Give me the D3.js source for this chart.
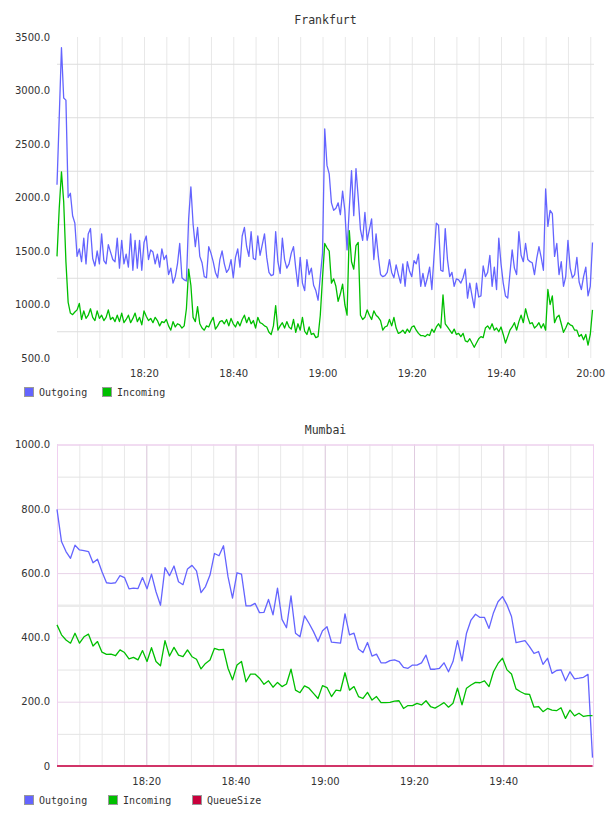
<!DOCTYPE html>
<html>
<head>
<meta charset="utf-8">
<script src="https://cdn.jsdelivr.net/npm/d3@7"></script>
<style>
  body { margin: 0; background: #fff; }
  svg text { font-family: "DejaVu Sans", sans-serif; font-size: 10px; fill: #333; }
  svg text.title, svg .legend text { font-family: "DejaVu Sans Mono", monospace; }
  svg text.title { font-size: 11.5px; }
</style>
</head>
<body>
<div id="chart"></div>
<script>
// ---- DATA ----
// Frankfurt: one sample every 30 s starting 18:00:30
const frankfurtStart = "18:00:30";
const frankfurtStepSec = 30;
const frankfurtOutgoing = [
  2120, 2750, 3400, 2930, 2910, 2000, 2040, 1830, 1760, 1450,
  1520, 1400, 1620, 1380, 1660, 1710, 1430, 1360, 1500, 1380,
  1660, 1410, 1380, 1560, 1490, 1420, 1400, 1620, 1340, 1600,
  1380, 1470, 1350, 1660, 1320, 1600, 1340, 1600, 1320, 1580,
  1640, 1420, 1510, 1490, 1380, 1470, 1350, 1520, 1420, 1460,
  1280, 1340, 1200, 1260, 1380, 1570, 1250, 1230, 1220, 1800,
  2100, 1750, 1540, 1720, 1450, 1390, 1260, 1250, 1540, 1480,
  1400, 1300, 1250, 1420, 1500, 1380, 1300, 1330, 1420, 1250,
  1440, 1520, 1350, 1640, 1720, 1540, 1450, 1680, 1430, 1420,
  1640, 1460, 1560, 1660, 1440, 1300, 1270, 1280, 1680, 1400,
  1290, 1620, 1420, 1340, 1380, 1480, 1540, 1340, 1170, 1440,
  1200, 1130, 1420, 1280, 1340, 1180, 1130, 1040, 1260, 1480,
  2640, 2300, 2220, 1950, 1880, 1900, 1950, 1840, 2060, 1880,
  1510, 1900, 2250, 1830, 2270, 2000, 1700, 1600, 1860, 1600,
  1700, 1800, 1420, 1660, 1450, 1280, 1260, 1270, 1300, 1420,
  1300, 1250, 1370, 1280, 1200, 1380, 1170, 1400, 1310, 1260,
  1410, 1380, 1470, 1170, 1290, 1170, 1250, 1350, 1140, 1460,
  1760, 1740, 1320, 1310, 1710, 1420, 1260, 1300, 1170, 1240,
  1230, 1200, 1250, 1330, 1060, 1200, 1080, 970, 1200, 1070,
  1080, 1360, 1260, 1300, 1460, 1170, 1350, 1140, 1620, 1380,
  1200, 1080, 1060, 1290, 1510, 1340, 1280, 1680, 1460, 1400,
  1570, 1420, 1400, 1390, 1280, 1430, 1540, 1440, 1320, 2080,
  1730, 1880, 1850, 1450, 1570, 1280, 1400, 1170, 1260, 1600,
  1340, 1250, 1280, 1440, 1210, 1140, 1260, 1350, 1080, 1170,
  1580
];
const frankfurtIncoming = [
  1450, 1900, 2240, 1960, 1400, 1020, 920, 905, 930, 950,
  1010, 860, 940, 870, 900, 960, 880, 850, 940, 870,
  900, 850, 880, 950, 860, 880, 840, 900, 840, 920,
  830, 860, 900, 830, 870, 920, 840, 880, 810, 940,
  890, 850, 870, 830, 880, 850, 800, 840, 830, 860,
  800, 760, 840, 790, 820, 810, 780, 800, 960, 1330,
  1180, 880, 840, 980, 820, 780, 760, 800, 790, 840,
  880, 770, 800, 840, 850, 820, 860, 800, 870, 820,
  790, 840, 800, 860, 900, 830, 880, 820, 850, 780,
  880, 830, 820, 800, 790, 740, 720, 800, 990, 760,
  800, 830, 780, 840, 790, 770, 860, 740, 820, 760,
  880, 750, 720, 790, 720, 730, 690, 700, 900, 1250,
  1570, 1530, 1500, 1200, 1240, 1170, 1030, 1100, 1190, 1000,
  900, 1690, 1400, 1330, 1550, 1580, 900, 860, 880, 950,
  900, 860, 940, 900, 880, 850, 760, 790, 800, 860,
  800, 880, 780, 730, 740, 760, 730, 770, 740, 790,
  800, 760, 730, 710, 710, 700, 720, 710, 770, 740,
  790, 820, 780, 1090, 820, 790, 760, 730, 770, 720,
  730, 700, 730, 660, 650, 680, 640, 600, 640, 680,
  700, 690, 780, 800, 770, 820, 760, 780, 745, 790,
  720, 640, 700, 760, 790, 830, 760, 840, 900, 830,
  960, 880, 820, 830, 780, 800, 830, 780, 820, 760,
  1140, 1000, 1080, 830, 880, 900, 820, 740, 780, 830,
  810, 800, 760, 760, 700, 720, 670, 720, 620, 720,
  950
];

// Mumbai: roughly one sample a minute from 18:00 to 20:00
const mumbaiStart = "18:00:00";
const mumbaiStepSec = 60.5;
const mumbaiOutgoing = [
  798, 698, 667, 646, 687, 672, 670, 667, 632, 643,
  604, 570, 568, 570, 592, 586, 551, 553, 552, 586,
  551, 597, 542, 500, 617, 592, 622, 573, 564, 613,
  624, 607, 539, 558, 594, 661, 654, 685, 589, 522,
  601, 597, 498, 498, 506, 477, 478, 518, 470, 553,
  456, 430, 529, 413, 402, 467, 444, 418, 387, 421,
  433, 385, 384, 382, 473, 408, 413, 364, 353, 384,
  342, 348, 321, 321, 328, 330, 325, 307, 304, 314,
  314, 321, 345, 301, 301, 304, 321, 293, 325, 390,
  327, 413, 454, 472, 462, 462, 428, 477, 511, 527,
  501, 465, 384, 387, 390, 371, 350, 356, 316, 335,
  288, 297, 299, 265, 293, 271, 273, 276, 285, 26
];
const mumbaiIncoming = [
  439, 408, 392, 382, 413, 382, 402, 410, 373, 387,
  354, 347, 348, 343, 361, 353, 333, 338, 330, 359,
  325, 368, 325, 312, 390, 342, 369, 345, 340, 361,
  340, 332, 302, 319, 330, 366, 361, 363, 304, 268,
  314, 325, 262, 286, 286, 273, 254, 265, 245, 260,
  247, 255, 301, 236, 228, 249, 242, 226, 210, 250,
  244, 216, 236, 234, 290, 236, 247, 216, 210, 229,
  205, 216, 197, 197, 198, 202, 203, 179, 188, 188,
  195, 190, 203, 185, 180, 188, 197, 183, 195, 242,
  190, 242, 252, 260, 259, 265, 247, 293, 319, 335,
  299, 286, 240, 231, 224, 223, 183, 185, 169, 179,
  174, 172, 181, 148, 174, 156, 164, 154, 157, 157
];
const mumbaiQueueSize = [
  0, 0, 0, 0, 0, 0, 0, 0, 0, 0,
  0, 0, 0, 0, 0, 0, 0, 0, 0, 0,
  0, 0, 0, 0, 0, 0, 0, 0, 0, 0,
  0, 0, 0, 0, 0, 0, 0, 0, 0, 0,
  0, 0, 0, 0, 0, 0, 0, 0, 0, 0,
  0, 0, 0, 0, 0, 0, 0, 0, 0, 0,
  0, 0, 0, 0, 0, 0, 0, 0, 0, 0,
  0, 0, 0, 0, 0, 0, 0, 0, 0, 0,
  0, 0, 0, 0, 0, 0, 0, 0, 0, 0,
  0, 0, 0, 0, 0, 0, 0, 0, 0, 0,
  0, 0, 0, 0, 0, 0, 0, 0, 0, 0,
  0, 0, 0, 0, 0, 0, 0, 0, 0, 0
];

const seriesNames = ["Outgoing", "Incoming", "QueueSize"];
const seriesColors = { Outgoing: "#6464ff", Incoming: "#00bf00", QueueSize: "#c8003c" };

// ---- HELPERS ----
const parseTime = d3.timeParse("%H:%M:%S");
const makeTimes = (start, stepSec, n) => {
  const t0 = parseTime(start);
  return d3.range(n).map(i => new Date(+t0 + i * stepSec * 1000));
};

const svg = d3.select("#chart")
  .append("svg")
  .attr("width", 608)
  .attr("height", 816);

function drawChart(cfg) {
  const g = svg.append("g");
  const times = makeTimes(cfg.start, cfg.stepSec, cfg.series[0].values.length);

  const x = d3.scaleTime()
    .domain(d3.extent(times))
    .range([cfg.left, cfg.dataRight]);
  const y = d3.scaleLinear()
    .domain(cfg.yDomain)
    .range([cfg.bottom, cfg.top]);

  const plotW = cfg.right - cfg.left;
  const plotH = cfg.bottom - cfg.top;

  const styleGrid = (sel, color, width) => {
    sel.select(".domain").remove();
    sel.selectAll(".tick line").attr("stroke", color).attr("stroke-width", width || 1);
    sel.selectAll(".tick text").remove();
  };

  // gray minor grid
  g.append("g")
    .attr("transform", `translate(0,${cfg.top})`)
    .call(d3.axisBottom(x).ticks(d3.timeMinute.every(5)).tickSize(plotH).tickFormat(""))
    .call(s => styleGrid(s, cfg.vGridColor));
  g.append("g")
    .attr("transform", `translate(${cfg.left},0)`)
    .call(d3.axisLeft(y).tickValues(cfg.hGridValues).tickSize(-plotW).tickFormat(""))
    .call(s => styleGrid(s, cfg.hGridColor));

  // pink major grid + frame (Mumbai only)
  if (cfg.majorColor) {
    if (cfg.markValue !== undefined) {
      g.append("g")
        .attr("transform", `translate(${cfg.left},0)`)
        .call(d3.axisLeft(y).tickValues([cfg.markValue]).tickSize(-plotW).tickFormat(""))
        .call(s => styleGrid(s, "#ebebeb", 2.5));
    }
    g.append("g")
      .attr("transform", `translate(0,${cfg.top})`)
      .call(d3.axisBottom(x).ticks(d3.timeMinute.every(20)).tickSize(plotH).tickFormat(""))
      .call(s => styleGrid(s, cfg.majorVColor));
    g.append("g")
      .attr("transform", `translate(${cfg.left},0)`)
      .call(d3.axisLeft(y).tickValues(cfg.yLabelValues).tickSize(-plotW).tickFormat(""))
      .call(s => styleGrid(s, cfg.majorColor));
    g.append("rect")
      .attr("x", cfg.left + 0.5).attr("y", cfg.top + 0.5)
      .attr("width", plotW - 1).attr("height", plotH - 1)
      .attr("fill", "none")
      .attr("stroke", cfg.frameColor);
  }

  // y labels
  g.append("g")
    .attr("transform", `translate(${cfg.left},0)`)
    .call(d3.axisLeft(y).tickValues(cfg.yLabelValues).tickSize(0).tickPadding(7)
      .tickFormat(d => d === 0 ? "0" : d3.format(".1f")(d)))
    .call(s => s.select(".domain").remove())
    .call(s => s.attr("font-family", null).attr("font-size", null));

  // x labels, 20 min apart, not on the edges
  const [d0, d1] = x.domain();
  const xLabels = x.ticks(d3.timeMinute.every(20)).filter(t => t > d0 && t < d1);
  g.append("g")
    .attr("transform", `translate(0,${cfg.bottom})`)
    .call(d3.axisBottom(x).tickValues(xLabels).tickSize(0).tickPadding(12)
      .tickFormat(d3.timeFormat("%H:%M")))
    .call(s => s.select(".domain").remove())
    .call(s => s.attr("font-family", null).attr("font-size", null));

  // lines
  const line = d3.line()
    .x((d, i) => x(times[i]))
    .y(d => y(d));
  g.selectAll("path.series")
    .data(cfg.series)
    .join("path")
    .attr("class", "series")
    .attr("fill", "none")
    .attr("stroke", d => seriesColors[d.name])
    .attr("stroke-width", 1.3)
    .attr("stroke-linejoin", "round")
    .attr("d", d => line(d.values));

  // title
  g.append("text")
    .attr("class", "title")
    .attr("x", (cfg.left + cfg.right) / 2)
    .attr("y", cfg.titleY)
    .attr("text-anchor", "middle")
    .text(cfg.title);

  // legend
  const legend = g.append("g")
    .attr("class", "legend")
    .attr("transform", `translate(24,${cfg.bottom + 29})`);
  const item = legend.selectAll("g")
    .data(cfg.series)
    .join("g")
    .attr("transform", (d, i) => `translate(${i * cfg.legendStep},0)`);
  item.append("rect")
    .attr("x", 0.5).attr("y", 0.5)
    .attr("width", 9).attr("height", 9)
    .attr("fill", d => seriesColors[d.name])
    .attr("stroke", "#999");
  item.append("text")
    .attr("x", 15)
    .attr("y", 9)
    .text(d => d.name);
}

drawChart({
  title: "Frankfurt",
  titleY: 24,
  start: frankfurtStart,
  stepSec: frankfurtStepSec,
  series: [
    { name: seriesNames[0], values: frankfurtOutgoing },
    { name: seriesNames[1], values: frankfurtIncoming }
  ],
  left: 57, right: 594, dataRight: 592.5, top: 37, bottom: 358,
  yDomain: [500, 3500],
  yLabelValues: d3.range(500, 3501, 500),
  hGridValues: d3.range(750, 3500, 500),
  hGridColor: "#dddddd",
  vGridColor: "#e8e8e8",
  legendStep: 78
});

drawChart({
  title: "Mumbai",
  titleY: 434,
  start: mumbaiStart,
  stepSec: mumbaiStepSec,
  series: [
    { name: seriesNames[0], values: mumbaiOutgoing },
    { name: seriesNames[1], values: mumbaiIncoming },
    { name: seriesNames[2], values: mumbaiQueueSize }
  ],
  left: 57, right: 594, dataRight: 592.5, top: 444.5, bottom: 766,
  yDomain: [0, 1000],
  yLabelValues: d3.range(0, 1001, 200),
  hGridValues: d3.range(100, 1000, 200),
  hGridColor: "#e4e4e4",
  vGridColor: "#e8e8e8",
  majorColor: "#e8d3e8",
  majorVColor: "#e0cce0",
  frameColor: "#f0d0f0",
  markValue: 500,
  legendStep: 84
});
</script>
</body>
</html>
